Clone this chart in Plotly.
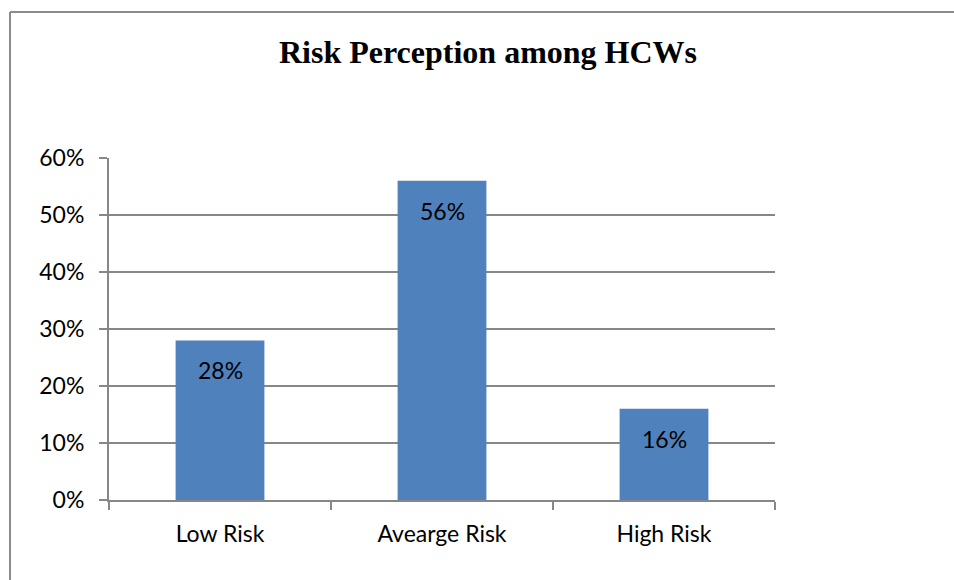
import plotly.graph_objects as go

categories = ["Low Risk", "Avearge Risk", "High Risk"]
shares = [0.28, 0.56, 0.16]
title_text = "Risk Perception among HCWs"

bar_color = "#4F81BD"
grid_color = "#878787"
label_font = dict(family="Lato, 'Open Sans', sans-serif", size=23, color="#000000")

fig = go.Figure()
fig.add_trace(go.Bar(
    x=categories,
    y=shares,
    marker=dict(color=bar_color, line=dict(width=0)),
    width=0.4,
    hoverinfo="skip",
))

# value labels just inside the top of each bar
for cat, val in zip(categories, shares):
    fig.add_annotation(
        x=cat, y=val, xref="x", yref="y",
        text=f"{val:.0%}", showarrow=False,
        yanchor="middle", yshift=-30,
        font=label_font,
    )

W, H = 954, 580
ml, mr, mt, mb = 109, 179, 158, 80
pw, ph = W - ml - mr, H - mt - mb


def px_x(p):
    return (p - ml) / pw


def px_y(p):
    return (H - mb - p) / ph


# outer chart frame (top and left edges are within the page)
frame = dict(color="#8c8c8c", width=2)
fig.add_shape(type="line", xref="paper", yref="paper",
              x0=px_x(10), x1=px_x(954), y0=px_y(12), y1=px_y(12), line=frame)
fig.add_shape(type="line", xref="paper", yref="paper",
              x0=px_x(10), x1=px_x(10), y0=px_y(12), y1=px_y(580), line=frame)

fig.update_layout(
    width=W, height=H,
    margin=dict(l=ml, r=mr, t=mt, b=mb),
    paper_bgcolor="white", plot_bgcolor="white",
    showlegend=False,
    title=dict(
        text=f"<b>{title_text}</b>",
        x=px_x(488), xref="paper", xanchor="center",
        y=1 - 52 / H, yref="container", yanchor="middle",
        font=dict(family="'Liberation Serif', 'Times New Roman', serif", size=32, color="#000000"),
    ),
    bargap=0.6,
)

fig.update_xaxes(
    type="category",
    showgrid=False,
    showline=True, linecolor=grid_color, linewidth=2,
    ticks="outside", tickson="boundaries", ticklen=8,
    tickcolor=grid_color, tickwidth=2,
    tickfont=label_font,
    ticklabelstandoff=12,
    zeroline=False,
)
fig.update_yaxes(
    range=[0, 0.6], dtick=0.1, tickformat=".0%",
    showgrid=True, gridcolor=grid_color, gridwidth=1.5,
    showline=True, linecolor=grid_color, linewidth=2,
    ticks="outside", ticklen=8, tickcolor=grid_color, tickwidth=2,
    tickfont=label_font,
    ticklabelstandoff=10,
    zeroline=False,
)

# keep the page from showing scrollbars around the fixed-size figure
fig.write_html(
    "out.html",
    post_script="document.documentElement.style.overflow='hidden';"
                "document.body.style.overflow='hidden';"
                "document.body.style.margin='0';",
)
